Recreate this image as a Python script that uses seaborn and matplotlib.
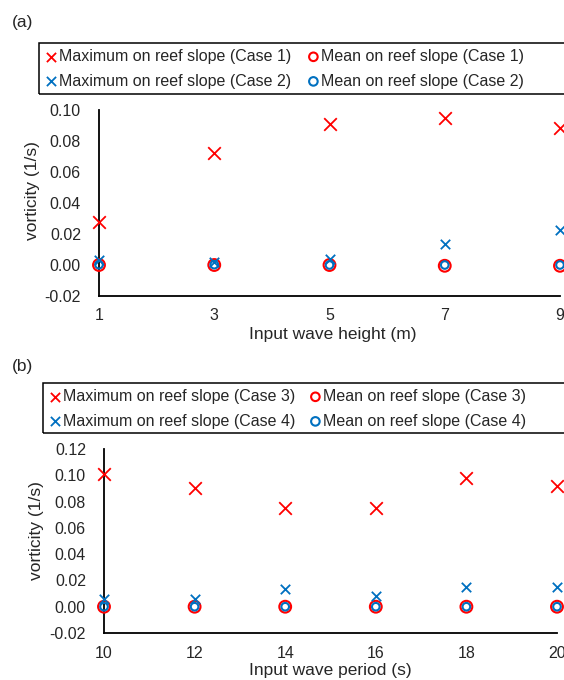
import matplotlib
matplotlib.use("Agg")
import matplotlib.pyplot as plt
from matplotlib.patches import Rectangle
import seaborn as sns

# Panel (a): wave height cases
height_m = [1, 3, 5, 7, 9]
max_case1 = [0.0276, 0.0722, 0.0910, 0.0946, 0.0882]
mean_case1 = [0.0, 0.0, 0.0, -0.0005, -0.0005]
max_case2 = [0.0030, 0.0022, 0.0040, 0.0137, 0.0229]
mean_case2 = [0.0002, 0.0002, 0.0, 0.0, 0.0]

# Panel (b): wave period cases
period_s = [10, 12, 14, 16, 18, 20]
max_case3 = [0.1007, 0.0904, 0.0753, 0.0753, 0.0980, 0.0917]
mean_case3 = [0.0, 0.0, 0.0, 0.0, 0.0, 0.0]
max_case4 = [0.0055, 0.0055, 0.0136, 0.0080, 0.0151, 0.0151]
mean_case4 = [0.0, 0.0, 0.0, 0.0, 0.0, 0.0]

ticks_a = [-0.02, 0.0, 0.02, 0.04, 0.06, 0.08, 0.10]
ticks_b = [-0.02, 0.0, 0.02, 0.04, 0.06, 0.08, 0.10, 0.12]

RED = "#FF0000"
BLUE = "#0070C0"
W, H = 564, 680

sns.set_style("white")
plt.rcParams["font.family"] = ["Liberation Sans", "DejaVu Sans"]


def _frac(x0, y0, x1, y1):
    # pixel box -> figure fraction [left, bottom, width, height]
    return [x0 / W, 1 - y1 / H, (x1 - x0) / W, (y1 - y0) / H]


def _legend_column(fig, handles, labels, x, y, size):
    leg = fig.legend(handles, labels, loc="upper left", bbox_to_anchor=(x / W, 1 - y / H),
                     ncol=1, frameon=False, fontsize=11.5, handletextpad=0.1,
                     handlelength=0.8, labelspacing=0.6, borderpad=0, borderaxespad=0)
    for h in leg.legend_handles:
        h.set_sizes([size])
    return leg


def _panel(fig, box, x, mx_a, mn_a, mx_b, mn_b, cases, yticks, xlabel, xlab_c, ylab_c,
           tag, tag_y, leg_box, leg_cols):
    x0, y0, x1, y1 = box
    ax = fig.add_axes(_frac(*box))
    sns.scatterplot(x=x, y=mx_a, marker="x", s=82, color=RED, linewidth=1.3,
                    label=f"Maximum on reef slope (Case {cases[0]})", ax=ax, clip_on=False, zorder=4)
    sns.scatterplot(x=x, y=mx_b, marker="x", s=46, color=BLUE, linewidth=1.3,
                    label=f"Maximum on reef slope (Case {cases[1]})", ax=ax, clip_on=False, zorder=5)
    sns.scatterplot(x=x, y=mn_a, marker="o", s=72, color="none", edgecolor=RED, linewidth=1.5,
                    label=f"Mean on reef slope (Case {cases[0]})", ax=ax, clip_on=False, zorder=3)
    sns.scatterplot(x=x, y=mn_b, marker="o", s=30, color="none", edgecolor=BLUE, linewidth=1.5,
                    label=f"Mean on reef slope (Case {cases[1]})", ax=ax, clip_on=False, zorder=6)
    ax.set_xlim(x[0], x[-1])
    ax.set_ylim(yticks[0], yticks[-1])
    ax.set_xticks(x)
    ax.set_yticks(yticks)
    ax.set_yticklabels([f"{v:.2f}" for v in yticks])
    ax.tick_params(axis="both", direction="in", length=5, width=1.1, color="black", labelsize=11.5)
    ax.tick_params(axis="y", pad=13)
    ax.tick_params(axis="x", pad=9)
    for side in ["top", "right"]:
        ax.spines[side].set_visible(False)
    for side in ["left", "bottom"]:
        ax.spines[side].set_color("black")
        ax.spines[side].set_linewidth(1.3)
    ax.set_xlabel(xlabel, fontsize=12.5, va="center")
    ax.set_ylabel("vorticity (1/s)", fontsize=12.5, va="center")
    ax.xaxis.set_label_coords((xlab_c[0] - x0) / (x1 - x0), (y1 - xlab_c[1]) / (y1 - y0))
    ax.yaxis.set_label_coords((ylab_c[0] - x0) / (x1 - x0), (y1 - ylab_c[1]) / (y1 - y0))

    handles, labels = ax.get_legend_handles_labels()
    ax.get_legend().remove()
    lx0, ly0, lx1, ly1 = leg_box
    fig.patches.append(Rectangle((lx0 / W, 1 - ly1 / H), (lx1 - lx0) / W, (ly1 - ly0) / H,
                                 transform=fig.transFigure, fill=False, edgecolor="black",
                                 linewidth=1.1, figure=fig))
    top = ly0 + 6
    _legend_column(fig, handles[:2], labels[:2], leg_cols[0], top, 44)
    _legend_column(fig, handles[2:], labels[2:], leg_cols[1], top, 38)
    fig.text(12 / W, 1 - tag_y / H, tag, fontsize=12.5, va="center", ha="left")
    return ax


fig = plt.figure(figsize=(W / 100, H / 100), dpi=100)

_panel(fig, (99, 110, 560, 296), height_m, max_case1, mean_case1, max_case2, mean_case2,
       (1, 2), ticks_a, "Input wave height (m)", (333, 335), (33, 191),
       "(a)", 22, (39, 43, 575, 94), (45, 307))

_panel(fig, (104, 449, 557, 633), period_s, max_case3, mean_case3, max_case4, mean_case4,
       (3, 4), ticks_b, "Input wave period (s)", (330, 671), (36, 531),
       "(b)", 366, (43, 383, 575, 433), (49, 309))

fig.savefig("out.png", dpi=100)
